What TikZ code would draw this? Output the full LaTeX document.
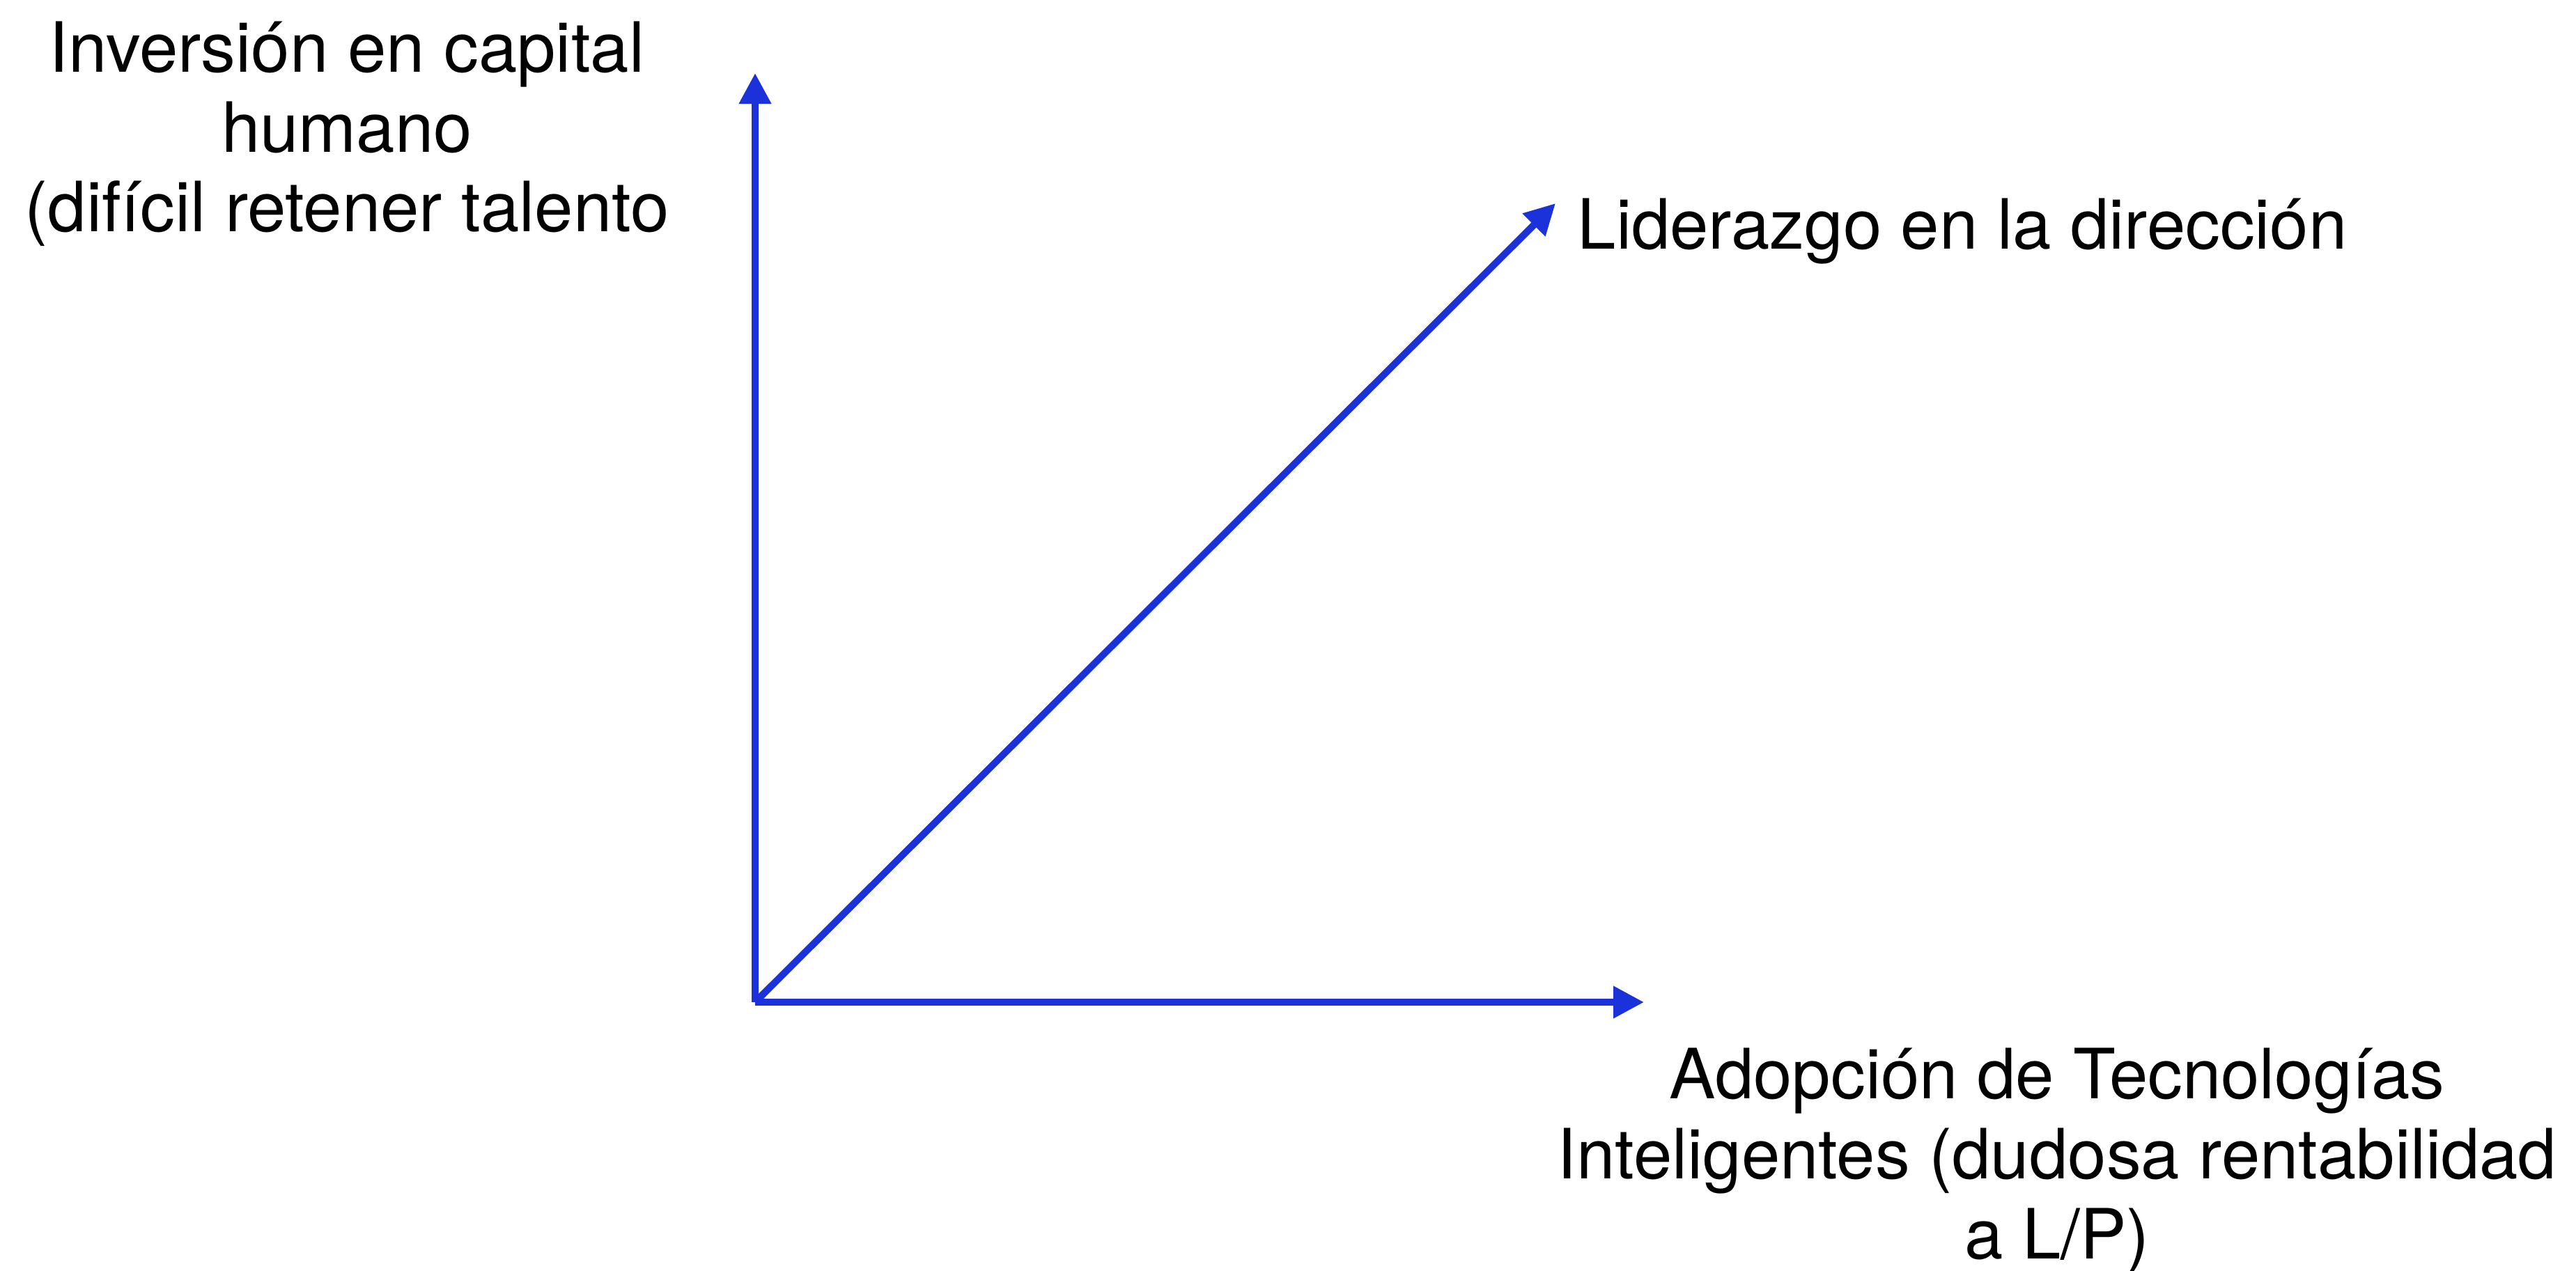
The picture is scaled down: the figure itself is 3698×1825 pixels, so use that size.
\documentclass[tikz,border=0pt]{standalone}
\usepackage{fontspec}
\setmainfont{TeX Gyre Heros}
\usetikzlibrary{arrows.meta,positioning}
\definecolor{axisblue}{RGB}{27,50,219}
\begin{document}
\begin{tikzpicture}[x=0.01cm,y=-0.01cm]
      \tikzstyle{label} = [inner sep=0pt, align=center, font=\fontsize{28.3pt}{32.6pt}\selectfont]
      \tikzstyle{arrow} = [axisblue, line width=0.1cm, -{Triangle[length=0.44cm,width=0.44cm]}]

      \useasboundingbox (0,0) rectangle (3698,1825);

      \coordinate (origin) at (1084,1439);
      \coordinate (ytip) at (1084,105);
      \coordinate (xtip) at (2360,1439);
      \coordinate (dtip) at (2233,292);

      % base anchor sits on the last line
      \node (ylabel) [label, anchor=base] at (498,333) {Inversión en capital\\humano\\(difícil retener talento};
      \node (dlabel) [label, anchor=base west] at (2264,358) {Liderazgo en la dirección};
      \node (xlabel) [label, anchor=base] at (2953,1807) {Adopción de Tecnologías\\Inteligentes (dudosa rentabilidad\\a L/P)};

      \draw [arrow] (origin) -- (ytip);
      \draw [arrow] (origin) -- (xtip);
      \draw [arrow] (origin) -- (dtip);
    \end{tikzpicture}
\end{document}
